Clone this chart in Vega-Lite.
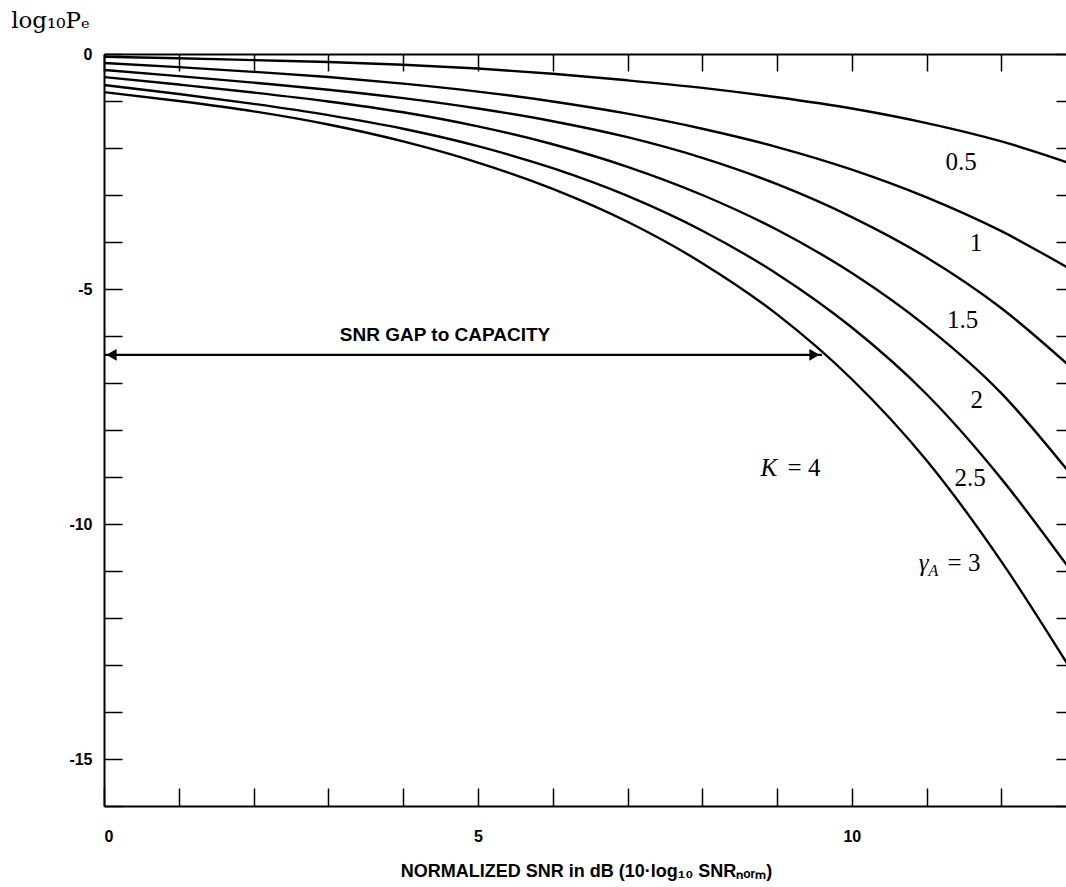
{
  "$schema": "https://vega.github.io/schema/vega-lite/v6.json",
  "width": 964,
  "height": 752,
  "autosize": {"type": "none"},
  "padding": {"left": 104, "top": 54, "right": 0, "bottom": 81},
  "background": "white",
  "config": {
    "view": {"stroke": null},
    "axis": {
      "grid": false,
      "domainColor": "black",
      "domainWidth": 2,
      "tickColor": "black",
      "tickWidth": 1.5,
      "labelColor": "black",
      "titleColor": "black"
    }
  },
  "datasets": {
    "curves": [
      {"snr": 0, "logpe": -0.06, "gamma": "0.5"},
      {"snr": 1, "logpe": -0.09, "gamma": "0.5"},
      {"snr": 2, "logpe": -0.13, "gamma": "0.5"},
      {"snr": 3, "logpe": -0.17, "gamma": "0.5"},
      {"snr": 4, "logpe": -0.23, "gamma": "0.5"},
      {"snr": 5, "logpe": -0.31, "gamma": "0.5"},
      {"snr": 6, "logpe": -0.42, "gamma": "0.5"},
      {"snr": 7, "logpe": -0.56, "gamma": "0.5"},
      {"snr": 8, "logpe": -0.72, "gamma": "0.5"},
      {"snr": 9, "logpe": -0.92, "gamma": "0.5"},
      {"snr": 10, "logpe": -1.16, "gamma": "0.5"},
      {"snr": 11, "logpe": -1.47, "gamma": "0.5"},
      {"snr": 12, "logpe": -1.86, "gamma": "0.5"},
      {"snr": 12.89, "logpe": -2.31, "gamma": "0.5"},

      {"snr": 0, "logpe": -0.19, "gamma": "1"},
      {"snr": 1, "logpe": -0.28, "gamma": "1"},
      {"snr": 2, "logpe": -0.38, "gamma": "1"},
      {"snr": 3, "logpe": -0.49, "gamma": "1"},
      {"snr": 4, "logpe": -0.63, "gamma": "1"},
      {"snr": 5, "logpe": -0.80, "gamma": "1"},
      {"snr": 6, "logpe": -1.01, "gamma": "1"},
      {"snr": 7, "logpe": -1.27, "gamma": "1"},
      {"snr": 8, "logpe": -1.59, "gamma": "1"},
      {"snr": 9, "logpe": -1.98, "gamma": "1"},
      {"snr": 10, "logpe": -2.46, "gamma": "1"},
      {"snr": 11, "logpe": -3.05, "gamma": "1"},
      {"snr": 12, "logpe": -3.77, "gamma": "1"},
      {"snr": 12.89, "logpe": -4.55, "gamma": "1"},

      {"snr": 0, "logpe": -0.34, "gamma": "1.5"},
      {"snr": 1, "logpe": -0.47, "gamma": "1.5"},
      {"snr": 2, "logpe": -0.61, "gamma": "1.5"},
      {"snr": 3, "logpe": -0.76, "gamma": "1.5"},
      {"snr": 4, "logpe": -0.94, "gamma": "1.5"},
      {"snr": 5, "logpe": -1.16, "gamma": "1.5"},
      {"snr": 6, "logpe": -1.43, "gamma": "1.5"},
      {"snr": 7, "logpe": -1.77, "gamma": "1.5"},
      {"snr": 8, "logpe": -2.21, "gamma": "1.5"},
      {"snr": 9, "logpe": -2.77, "gamma": "1.5"},
      {"snr": 10, "logpe": -3.47, "gamma": "1.5"},
      {"snr": 11, "logpe": -4.33, "gamma": "1.5"},
      {"snr": 12, "logpe": -5.41, "gamma": "1.5"},
      {"snr": 12.89, "logpe": -6.61, "gamma": "1.5"},

      {"snr": 0, "logpe": -0.49, "gamma": "2"},
      {"snr": 1, "logpe": -0.65, "gamma": "2"},
      {"snr": 2, "logpe": -0.82, "gamma": "2"},
      {"snr": 3, "logpe": -1.01, "gamma": "2"},
      {"snr": 4, "logpe": -1.24, "gamma": "2"},
      {"snr": 5, "logpe": -1.54, "gamma": "2"},
      {"snr": 6, "logpe": -1.92, "gamma": "2"},
      {"snr": 7, "logpe": -2.40, "gamma": "2"},
      {"snr": 8, "logpe": -3.00, "gamma": "2"},
      {"snr": 9, "logpe": -3.74, "gamma": "2"},
      {"snr": 10, "logpe": -4.66, "gamma": "2"},
      {"snr": 11, "logpe": -5.80, "gamma": "2"},
      {"snr": 12, "logpe": -7.22, "gamma": "2"},
      {"snr": 12.89, "logpe": -8.87, "gamma": "2"},

      {"snr": 0, "logpe": -0.66, "gamma": "2.5"},
      {"snr": 1, "logpe": -0.85, "gamma": "2.5"},
      {"snr": 2, "logpe": -1.06, "gamma": "2.5"},
      {"snr": 3, "logpe": -1.30, "gamma": "2.5"},
      {"snr": 4, "logpe": -1.59, "gamma": "2.5"},
      {"snr": 5, "logpe": -1.96, "gamma": "2.5"},
      {"snr": 6, "logpe": -2.43, "gamma": "2.5"},
      {"snr": 7, "logpe": -3.02, "gamma": "2.5"},
      {"snr": 8, "logpe": -3.76, "gamma": "2.5"},
      {"snr": 9, "logpe": -4.68, "gamma": "2.5"},
      {"snr": 10, "logpe": -5.82, "gamma": "2.5"},
      {"snr": 11, "logpe": -7.24, "gamma": "2.5"},
      {"snr": 12, "logpe": -9.04, "gamma": "2.5"},
      {"snr": 12.89, "logpe": -10.91, "gamma": "2.5"},

      {"snr": 0, "logpe": -0.81, "gamma": "3"},
      {"snr": 1, "logpe": -1.00, "gamma": "3"},
      {"snr": 2, "logpe": -1.22, "gamma": "3"},
      {"snr": 3, "logpe": -1.50, "gamma": "3"},
      {"snr": 4, "logpe": -1.86, "gamma": "3"},
      {"snr": 5, "logpe": -2.31, "gamma": "3"},
      {"snr": 6, "logpe": -2.87, "gamma": "3"},
      {"snr": 7, "logpe": -3.57, "gamma": "3"},
      {"snr": 8, "logpe": -4.45, "gamma": "3"},
      {"snr": 9, "logpe": -5.54, "gamma": "3"},
      {"snr": 10, "logpe": -6.92, "gamma": "3"},
      {"snr": 11, "logpe": -8.65, "gamma": "3"},
      {"snr": 12, "logpe": -10.80, "gamma": "3"},
      {"snr": 12.89, "logpe": -13.00, "gamma": "3"}
    ],
    "labels": [
      {"snr": 11.46, "logpe": -2.30, "text": "0.5"},
      {"snr": 11.66, "logpe": -4.02, "text": "1"},
      {"snr": 11.48, "logpe": -5.66, "text": "1.5"},
      {"snr": 11.67, "logpe": -7.36, "text": "2"},
      {"snr": 11.58, "logpe": -9.02, "text": "2.5"},
      {"snr": 11.50, "logpe": -10.83, "text": "= 3"},
      {"snr": 9.36, "logpe": -8.81, "text": "= 4"}
    ],
    "italics": [
      {"snr": 8.89, "logpe": -8.81, "text": "K"},
      {"snr": 10.96, "logpe": -10.83, "text": "γ"}
    ],
    "subs": [
      {"snr": 11.09, "logpe": -11.0, "text": "A"}
    ],
    "gap": [
      {"snr": 0, "snr2": 9.6, "logpe": -6.4}
    ],
    "heads": [
      {"snr": 0.1, "logpe": -6.4, "dir": "left"},
      {"snr": 9.5, "logpe": -6.4, "dir": "right"}
    ],
    "gaplabel": [
      {"snr": 4.56, "logpe": -5.98, "text": "SNR GAP to CAPACITY"}
    ]
  },
  "layer": [
    {
      "data": {"name": "curves"},
      "mark": {"type": "line", "color": "black", "strokeWidth": 2.4, "interpolate": "monotone"},
      "encoding": {
        "x": {
          "field": "snr", "type": "quantitative",
          "scale": {"domain": [0, 12.89], "nice": false, "zero": false},
          "axis": {
            "orient": "bottom",
            "values": [0, 1, 2, 3, 4, 5, 6, 7, 8, 9, 10, 11, 12],
            "labelExpr": "datum.value % 5 == 0 ? toString(datum.value) : ''",
            "tickSize": -18,
            "labelPadding": 40,
            "labelFont": "Liberation Sans",
            "labelFontWeight": "bold",
            "labelFontSize": 16,
            "title": "NORMALIZED SNR in dB (10·log₁₀ SNRₙₒᵣₘ)",
            "titleFont": "Liberation Sans",
            "titleFontWeight": "bold",
            "titleFontSize": 18,
            "titlePadding": 18
          }
        },
        "y": {
          "field": "logpe", "type": "quantitative",
          "scale": {"domain": [-16, 0], "nice": false, "zero": false},
          "axis": {
            "orient": "left",
            "values": [-16, -15, -14, -13, -12, -11, -10, -9, -8, -7, -6, -5, -4, -3, -2, -1, 0],
            "labelExpr": "datum.value % 5 == 0 ? toString(datum.value) : ''",
            "tickSize": -18,
            "labelPadding": 30,
            "labelFont": "Liberation Sans",
            "labelFontWeight": "bold",
            "labelFontSize": 16,
            "title": "log₁₀Pₑ",
            "titleFont": "DejaVu Serif",
            "titleFontWeight": "normal",
            "titleFontSize": 23,
            "titleAngle": 0,
            "titleAlign": "center",
            "titleBaseline": "middle",
            "titleX": -54,
            "titleY": -34
          }
        },
        "detail": {"field": "gamma"}
      }
    },
    {
      "data": {"name": "gap"},
      "mark": {"type": "rule", "color": "black", "strokeWidth": 2.2},
      "encoding": {
        "x": {"field": "snr", "type": "quantitative",
          "axis": {"orient": "top", "values": [0, 1, 2, 3, 4, 5, 6, 7, 8, 9, 10, 11, 12], "labels": false, "tickSize": -17, "title": null}},
        "x2": {"field": "snr2"},
        "y": {"field": "logpe", "type": "quantitative",
          "axis": {"orient": "right", "values": [-16, -15, -14, -13, -12, -11, -10, -9, -8, -7, -6, -5, -4, -3, -2, -1, 0], "labels": false, "tickSize": -12, "title": null}}
      }
    },
    {
      "data": {"name": "heads"},
      "mark": {"type": "point", "filled": true, "color": "black", "opacity": 1, "size": 140},
      "encoding": {
        "x": {"field": "snr", "type": "quantitative", "axis": null},
        "y": {"field": "logpe", "type": "quantitative", "axis": null},
        "shape": {"field": "dir", "type": "nominal",
          "scale": {"domain": ["left", "right"], "range": ["triangle-left", "triangle-right"]},
          "legend": null}
      }
    },
    {
      "data": {"name": "labels"},
      "mark": {"type": "text", "font": "Liberation Serif", "fontSize": 25, "color": "black", "align": "center", "baseline": "middle"},
      "encoding": {
        "x": {"field": "snr", "type": "quantitative", "axis": null},
        "y": {"field": "logpe", "type": "quantitative", "axis": null},
        "text": {"field": "text"}
      }
    },
    {
      "data": {"name": "italics"},
      "mark": {"type": "text", "font": "Liberation Serif", "fontStyle": "italic", "fontSize": 25, "color": "black", "align": "center", "baseline": "middle"},
      "encoding": {
        "x": {"field": "snr", "type": "quantitative", "axis": null},
        "y": {"field": "logpe", "type": "quantitative", "axis": null},
        "text": {"field": "text"}
      }
    },
    {
      "data": {"name": "subs"},
      "mark": {"type": "text", "font": "Liberation Serif", "fontStyle": "italic", "fontSize": 16, "color": "black", "align": "center", "baseline": "middle"},
      "encoding": {
        "x": {"field": "snr", "type": "quantitative", "axis": null},
        "y": {"field": "logpe", "type": "quantitative", "axis": null},
        "text": {"field": "text"}
      }
    },
    {
      "data": {"name": "gaplabel"},
      "mark": {"type": "text", "font": "Liberation Sans", "fontWeight": "bold", "fontSize": 19, "color": "black", "align": "center", "baseline": "middle"},
      "encoding": {
        "x": {"field": "snr", "type": "quantitative", "axis": null},
        "y": {"field": "logpe", "type": "quantitative", "axis": null},
        "text": {"field": "text"}
      }
    }
  ],
  "resolve": {"axis": {"x": "independent", "y": "independent"}}
}
